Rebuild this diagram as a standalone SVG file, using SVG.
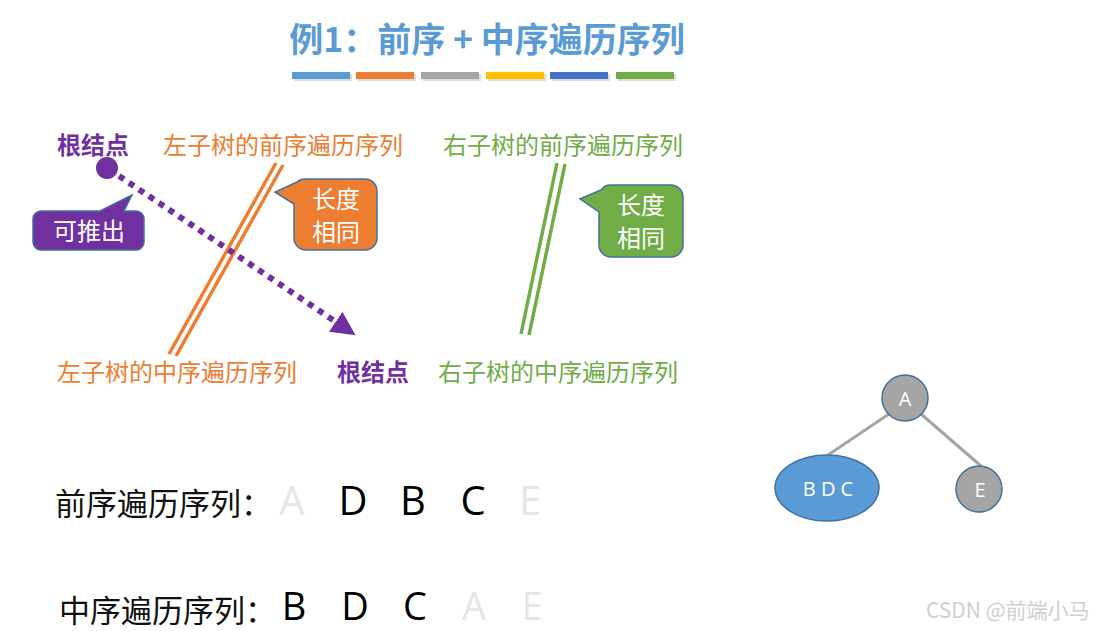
<svg xmlns="http://www.w3.org/2000/svg" width="1100" height="631" viewBox="0 0 1100 631">
<defs>
<style>
.cjk{font-family:"Noto Sans CJK SC","Noto Sans",sans-serif}
.lat{font-family:"Open Sans","Liberation Sans",sans-serif}
.lbl{font-size:24px}
.or{fill:#ED7D31}
.gr{fill:#70AD47}
.pu{fill:#7030A0;font-weight:bold}
.co{stroke:#41719C;stroke-width:1.5}
.ct{fill:#fff;font-size:24px;text-anchor:middle}
.big{font-size:40px;text-anchor:middle}
.big2{font-size:38px;text-anchor:middle}
.dim{fill:#E6E6E6}
.blk{fill:#000}
.seq{font-size:31px;fill:#111}
.edge{stroke:#A5A5A5;stroke-width:3}
.nd{stroke:#41719C;stroke-width:1.5}
.nt{fill:#fff;text-anchor:middle}
</style>
<marker id="ah" markerUnits="userSpaceOnUse" markerWidth="30" markerHeight="30" refX="4" refY="12" orient="auto">
<path d="M0,0 L24,12 L0,24 Z" fill="#7030A0"/>
</marker>
</defs>
<rect width="1100" height="631" fill="#fff"/>
<g id="title">
<text x="487" y="52" class="cjk" font-size="34" font-weight="bold" fill="#5B9BD5" text-anchor="middle">例1：前序 + 中序遍历序列</text>
<g opacity="0.25" fill="#777">
<rect x="294" y="74" width="58" height="7"/><rect x="358" y="74" width="58" height="7"/><rect x="423" y="74" width="58" height="7"/><rect x="488" y="74" width="58" height="7"/><rect x="552" y="74" width="58" height="7"/><rect x="618" y="74" width="58" height="7"/>
</g>
<rect x="292" y="72" width="58" height="7" fill="#5B9BD5"/>
<rect x="356" y="72" width="58" height="7" fill="#ED7D31"/>
<rect x="421" y="72" width="58" height="7" fill="#A5A5A5"/>
<rect x="486" y="72" width="58" height="7" fill="#FFC000"/>
<rect x="550" y="72" width="58" height="7" fill="#4472C4"/>
<rect x="616" y="72" width="58" height="7" fill="#70AD47"/>
</g>
<g id="labels-top">
<text x="57" y="154" class="cjk lbl pu">根结点</text>
<text x="163" y="154" class="cjk lbl or">左子树的前序遍历序列</text>
<text x="443" y="154" class="cjk lbl gr">右子树的前序遍历序列</text>
</g>
<g id="labels-bottom">
<text x="57" y="381" class="cjk lbl or">左子树的中序遍历序列</text>
<text x="337" y="381" class="cjk lbl pu">根结点</text>
<text x="438" y="381" class="cjk lbl gr">右子树的中序遍历序列</text>
</g>
<g id="connectors">
<line x1="276" y1="163" x2="169" y2="354" stroke="#ED7D31" stroke-width="3.5"/>
<line x1="283" y1="165" x2="176" y2="356" stroke="#ED7D31" stroke-width="3.5"/>
<line x1="557" y1="163" x2="521" y2="334" stroke="#70AD47" stroke-width="3.5"/>
<line x1="565" y1="164" x2="529" y2="335" stroke="#70AD47" stroke-width="3.5"/>
<circle cx="107" cy="168" r="11" fill="#7030A0"/>
<line x1="119" y1="176" x2="339" y2="324" stroke="#7030A0" stroke-width="6" stroke-dasharray="6 6" marker-end="url(#ah)"/>
</g>
<g id="callout-orange">
<path class="co" fill="#ED7D31" d="M306,179 H365 A12,12 0 0 1 377,191 V238 A12,12 0 0 1 365,250 H306 A12,12 0 0 1 294,238 V204 L275,192 L297,182 A12,12 0 0 1 306,179 Z"/>
<text x="336" y="208" class="cjk ct">长度</text>
<text x="336" y="241" class="cjk ct">相同</text>
</g>
<g id="callout-green">
<path class="co" fill="#70AD47" d="M611,185 H671 A12,12 0 0 1 683,197 V245 A12,12 0 0 1 671,257 H611 A12,12 0 0 1 599,245 V212 L580,199 L601,190 A12,12 0 0 1 611,185 Z"/>
<text x="641" y="214" class="cjk ct">长度</text>
<text x="641" y="247" class="cjk ct">相同</text>
</g>
<g id="callout-purple">
<path class="co" fill="#7030A0" d="M41,211 H100 L132,195 L124,211 H136 A8,8 0 0 1 144,219 V242 A8,8 0 0 1 136,250 H41 A8,8 0 0 1 33,242 V219 A8,8 0 0 1 41,211 Z"/>
<text x="89" y="240" class="cjk ct" font-size="25">可推出</text>
</g>
<g id="tree-edges">
<line x1="889" y1="414" x2="828" y2="455" class="edge"/>
<line x1="921" y1="414" x2="981" y2="466" class="edge"/>
</g>
<g id="node-A">
<circle cx="905" cy="398" r="23" fill="#A5A5A5" class="nd"/>
<text x="905" y="406" class="lat nt" font-size="20">A</text>
</g>
<g id="node-BDC">
<ellipse cx="827" cy="488" rx="52" ry="33" fill="#5B9BD5" class="nd"/>
<text x="828" y="496" class="lat nt" font-size="20">B D C</text>
</g>
<g id="node-E">
<circle cx="979" cy="489" r="23" fill="#A5A5A5" class="nd"/>
<text x="980" y="497" class="lat nt" font-size="20">E</text>
</g>
<g id="preorder">
<text x="55" y="515" class="cjk seq">前序遍历序列：</text>
<text x="292" y="515" class="lat big dim">A</text>
<text x="353" y="515" class="lat big blk">D</text>
<text x="413" y="515" class="lat big blk">B</text>
<text x="473" y="515" class="lat big blk">C</text>
<text x="530" y="515" class="lat big dim">E</text>
</g>
<g id="inorder">
<text x="59" y="622" class="cjk seq">中序遍历序列：</text>
<text x="294" y="620" class="lat big2 blk">B</text>
<text x="355" y="620" class="lat big2 blk">D</text>
<text x="415" y="620" class="lat big2 blk">C</text>
<text x="474" y="620" class="lat big2 dim">A</text>
<text x="532" y="620" class="lat big2 dim">E</text>
</g>
<text x="926" y="618" class="cjk" font-size="21" fill="#CFCFCF">CSDN @前端小马</text>
</svg>
